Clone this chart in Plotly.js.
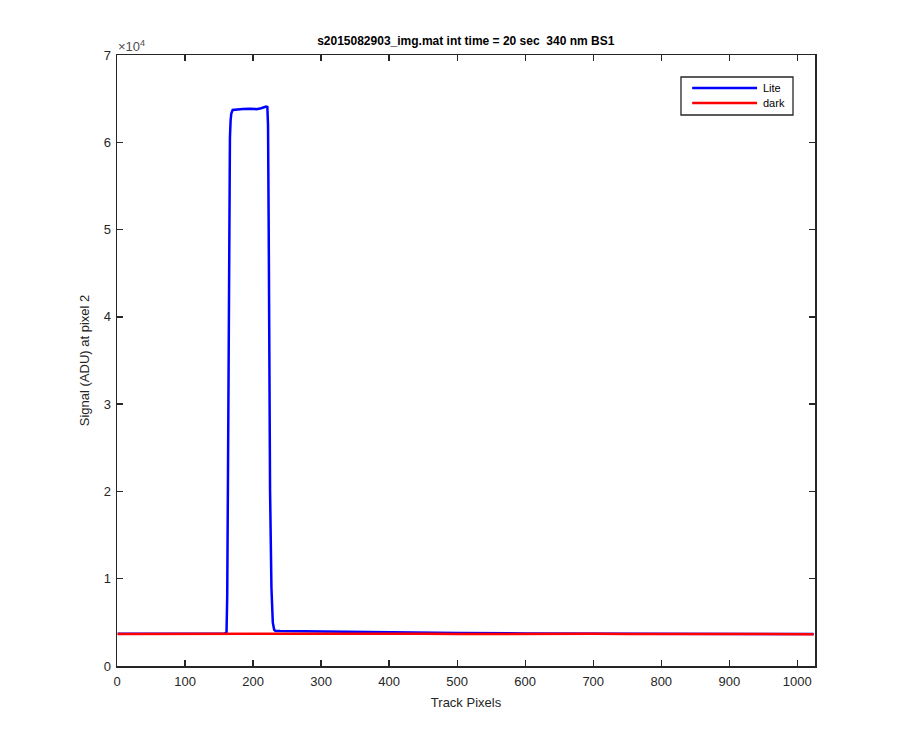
<!DOCTYPE html>
<html>
<head>
<meta charset="utf-8">
<script src="https://cdn.plot.ly/plotly-3.0.1.min.js"></script>
<style>html,body{margin:0;padding:0;background:#fff;}#chart{width:900px;height:750px;}</style>
</head>
<body>
<div id="chart"></div>
<script>
// Lite signal (track pixel, ADU)
const litePixels = [1, 40, 80, 120, 150, 158, 161, 162, 163, 164, 165, 166, 167, 168, 170, 175, 185, 195, 205, 212, 216, 219, 221, 222, 223, 224, 225, 227, 229, 231, 233, 240, 260, 300, 350, 400, 500, 600, 700, 800, 900, 1000, 1024];
const liteValues = [3690, 3680, 3700, 3690, 3700, 3710, 3850, 8000, 20000, 40000, 55000, 60500, 62500, 63300, 63700, 63750, 63800, 63850, 63800, 63900, 64000, 64100, 64050, 62000, 50000, 35000, 20000, 9000, 5000, 4150, 4020, 4000, 3980, 3930, 3880, 3840, 3780, 3730, 3700, 3690, 3680, 3670, 3670];
// Dark signal (track pixel, ADU)
const darkPixels = [1, 50, 100, 150, 200, 250, 300, 350, 400, 450, 500, 550, 600, 650, 700, 750, 800, 850, 900, 950, 1000, 1024];
const darkValues = [3680, 3690, 3670, 3700, 3690, 3680, 3700, 3690, 3680, 3690, 3670, 3690, 3680, 3670, 3690, 3680, 3660, 3670, 3660, 3650, 3660, 3650];

const xTicks = [0, 100, 200, 300, 400, 500, 600, 700, 800, 900, 1000];
const yTicks = [0, 10000, 20000, 30000, 40000, 50000, 60000, 70000];
const yTickText = ['0', '1', '2', '3', '4', '5', '6', '7'];
const legendNames = ['Lite', 'dark'];
const seriesColors = ['#0000ff', '#ff0000'];

const axisColor = '#262626';
const font = 'Liberation Sans, Arial, sans-serif';

const traces = [
  {x: litePixels, y: liteValues, type: 'scatter', mode: 'lines', name: legendNames[0],
   line: {color: seriesColors[0], width: 2.5}},
  {x: darkPixels, y: darkValues, type: 'scatter', mode: 'lines', name: legendNames[1],
   line: {color: seriesColors[1], width: 2.5}}
];

const axisCommon = {
  showline: true, linecolor: axisColor, linewidth: 1.5, mirror: 'ticks',
  ticks: 'inside', ticklen: 6, tickwidth: 1.3, tickcolor: axisColor,
  showgrid: false, zeroline: false,
  tickfont: {family: font, size: 13, color: axisColor}
};

// Legend box drawn in paper coordinates (matches MATLAB-style legend)
const legBox = {x0: 0.808, x1: 0.9685, y0: 0.9018, y1: 0.964};
const legRows = [0.946, 0.9214];
const shapes = [
  {type: 'rect', xref: 'paper', yref: 'paper', x0: legBox.x0, x1: legBox.x1, y0: legBox.y0, y1: legBox.y1,
   line: {color: axisColor, width: 1.3}, fillcolor: '#ffffff', layer: 'above'}
];
const annotations = [
  {xref: 'paper', yref: 'paper', x: 0, y: 1, xanchor: 'left', yanchor: 'bottom',
   text: '\u00d710<sup>4</sup>', showarrow: false, xshift: -1, yshift: -1,
   font: {family: font, size: 13, color: '#4d4d4d'}}
];
legendNames.forEach((n, i) => {
  shapes.push({type: 'line', xref: 'paper', yref: 'paper', x0: 0.824, x1: 0.917, y0: legRows[i], y1: legRows[i],
    line: {color: seriesColors[i], width: 2.5}, layer: 'above'});
  annotations.push({xref: 'paper', yref: 'paper', x: 0.922, y: legRows[i], xanchor: 'left', yanchor: 'middle',
    text: n, showarrow: false, font: {family: font, size: 11, color: '#000'}});
});

const layout = {
  width: 900, height: 750,
  paper_bgcolor: '#ffffff', plot_bgcolor: '#ffffff',
  margin: {l: 117, r: 85, t: 55, b: 84},
  title: {text: '<b>s2015082903_img.mat int time = 20 sec  340 nm BS1</b>',
          font: {family: font, size: 12, color: '#000'},
          x: 0.5175, xanchor: 'center', y: 0.946, yanchor: 'middle'},
  xaxis: Object.assign({}, axisCommon, {
    range: [0, 1026], tickvals: xTicks, ticktext: xTicks.map(String), ticklabelstandoff: 3,
    title: {text: 'Track Pixels', font: {family: font, size: 13, color: axisColor}, standoff: 10}
  }),
  yaxis: Object.assign({}, axisCommon, {
    range: [0, 70000], tickvals: yTicks, ticktext: yTickText, ticklabelstandoff: 2,
    title: {text: 'Signal (ADU) at pixel 2', font: {family: font, size: 13, color: axisColor}, standoff: 11}
  }),
  showlegend: false,
  shapes: shapes,
  annotations: annotations
};

Plotly.newPlot('chart', traces, layout, {displayModeBar: false, staticPlot: true});
</script>
</body>
</html>
